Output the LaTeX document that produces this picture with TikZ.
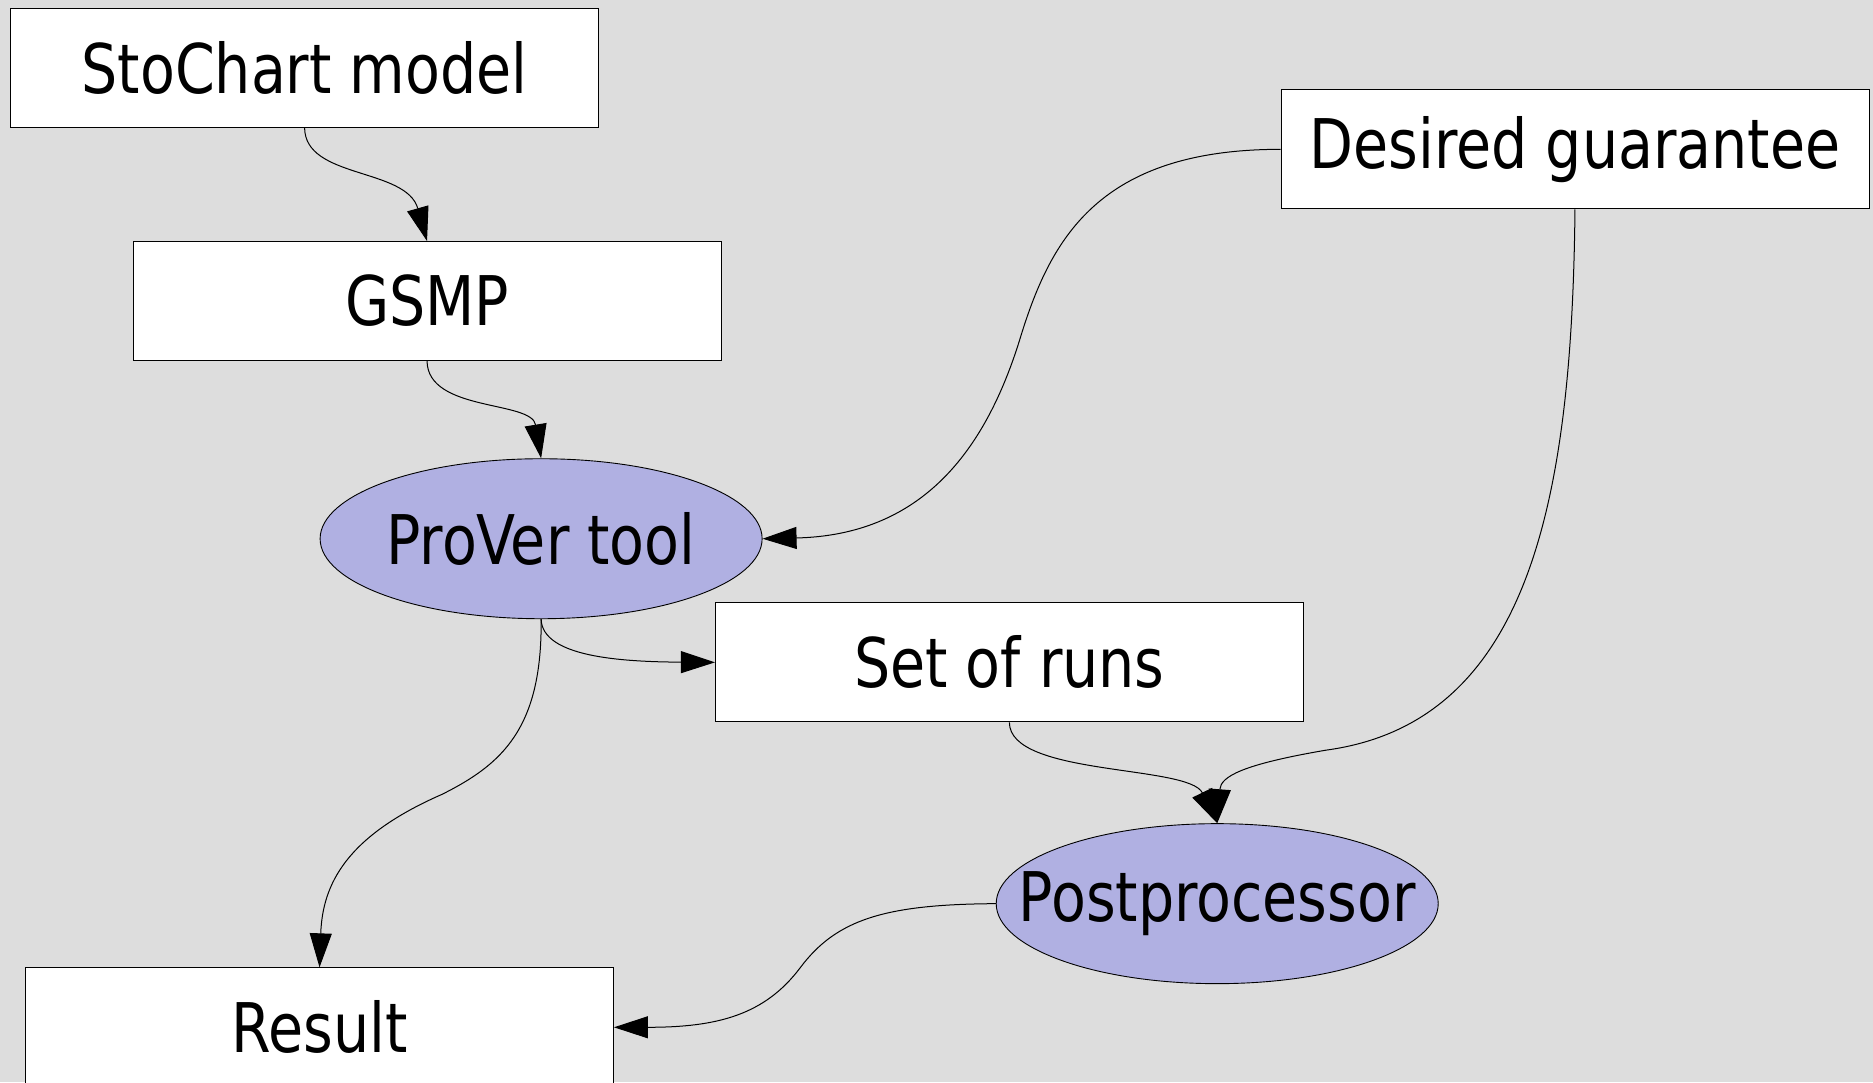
\documentclass[tikz,border=0pt]{standalone}
\usepackage{fontspec}
\usepackage{graphicx}
\setmainfont{DejaVu Sans Condensed}
\usetikzlibrary{shapes.geometric,arrows.meta}
\definecolor{bgc}{HTML}{DDDDDD}
\definecolor{ellc}{HTML}{B0B0E2}
\newcommand{\lbl}[1]{\makebox[0pt]{\scalebox{1}[1.08]{#1}}}
\tikzset{
  box/.style={draw=black, fill=white, line width=0.9pt, rectangle, inner sep=0pt,
    minimum width=588pt, minimum height=119pt, font=\fontsize{63.4}{70}\selectfont},
  oval/.style={draw=black, fill=ellc, line width=0.9pt, ellipse, inner sep=0pt,
    minimum width=442pt, minimum height=160pt, font=\fontsize{63.4}{70}\selectfont},
  conn/.style={draw=black, line width=1pt, -{Triangle[length=34pt,width=22pt]}}
}
\begin{document}
\begin{tikzpicture}[x=1.1945pt, y=-1.1945pt]
\fill[bgc] (0,0) rectangle (1568,906);
\useasboundingbox (0,0) rectangle (1568,906);
\node[box] (sto) at (255,56.5) {\lbl{StoChart model}};
\node[box] (gsmp) at (357.5,252) {\lbl{GSMP}};
\node[oval] (prover) at (453,451) {\lbl{ProVer tool}};
\node[box] (dg) at (1318.5,125) {\lbl{Desired guarantee}};
\node[box] (runs) at (845,554.5) {\lbl{Set of runs}};
\node[oval] (post) at (1019,756.5) {\lbl{Postprocessor}};
\node[box] (result) at (267.5,860) {\lbl{Result}};

\draw[conn] (sto.south) .. controls (255,150) and (340,140) .. (gsmp.north);
\draw[conn] (gsmp.south) .. controls (358,345) and (445,335) .. (prover.north);
\draw[conn] (dg.west) .. controls (920,125) and (880,200) .. (855,280)
  .. controls (825,380) and (770,448) .. (prover.east);
\draw[conn] (prover.south) .. controls (454,550) and (520,554) .. (runs.west);
\draw[conn] (prover.south) .. controls (454,610) and (420,640) .. (370,665)
  .. controls (290,700) and (270,740) .. (result.north);
\draw[conn] (runs.south) .. controls (845,650) and (995,640) .. (post.north);
\draw[conn] (dg.south) .. controls (1316,420) and (1280,605) .. (1110,628)
  .. controls (1040,640) and (1022,650) .. (post.north);
\draw[conn] (post.west) .. controls (740,757) and (700,770) .. (670,810)
  .. controls (640,850) and (600,860) .. (result.east);
\end{tikzpicture}
\end{document}
